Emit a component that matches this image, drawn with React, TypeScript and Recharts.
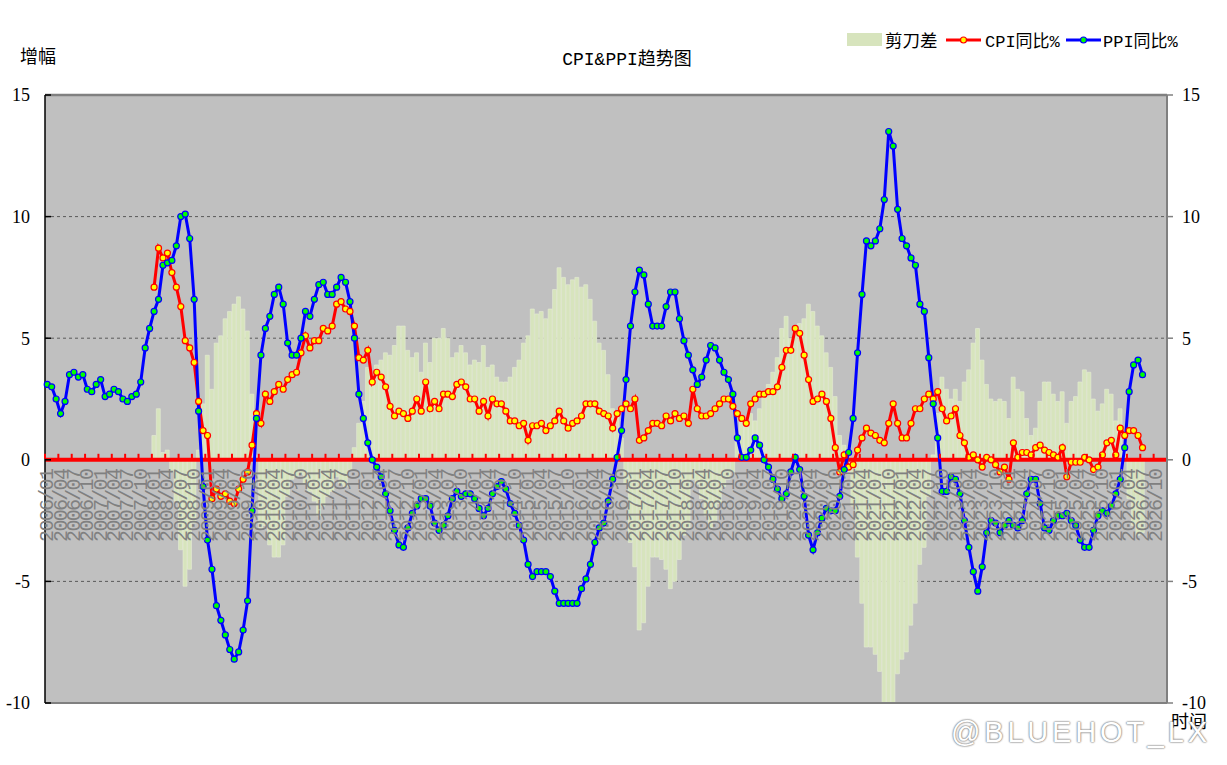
import React from 'react';
import {
  ComposedChart,
  Bar,
  Line,
  XAxis,
  YAxis,
  CartesianGrid,
  ReferenceLine,
  Legend,
} from 'recharts';

// ---------- categories ----------
const YEARS = [2006, 2007, 2008, 2009, 2010, 2011, 2012, 2013, 2014, 2015, 2016, 2017, 2018, 2019, 2020, 2021, 2022, 2023, 2024, 2025, 2026];
const MONTH_NUMS = ['01', '02', '03', '04', '05', '06', '07', '08', '09', '10', '11', '12'];
const MONTHS: string[] = YEARS.flatMap((y) => MONTH_NUMS.map((m) => `${y}/${m}`));

// ---------- series (from 2006/01) ----------
const PPI_START = '2006/01';
const PPI = [
  3.1, 3.0, 2.5, 1.9, 2.4, 3.5, 3.6, 3.4, 3.5, 2.9, 2.8, 3.1,
  3.3, 2.6, 2.7, 2.9, 2.8, 2.5, 2.4, 2.6, 2.7, 3.2, 4.6, 5.4,
  6.1, 6.6, 8.0, 8.1, 8.2, 8.8, 10.0, 10.1, 9.1, 6.6, 2.0, -1.1,
  -3.3, -4.5, -6.0, -6.6, -7.2, -7.8, -8.2, -7.9, -7.0, -5.8, -2.1, 1.7,
  4.3, 5.4, 5.9, 6.8, 7.1, 6.4, 4.8, 4.3, 4.3, 5.0, 6.1, 5.9,
  6.6, 7.2, 7.3, 6.8, 6.8, 7.1, 7.5, 7.3, 6.5, 5.0, 2.7, 1.7,
  0.7, 0.0, -0.3, -0.7, -1.4, -2.1, -2.9, -3.5, -3.6, -2.8, -2.2, -1.9,
  -1.6, -1.6, -1.9, -2.6, -2.9, -2.7, -2.3, -1.6, -1.3, -1.5, -1.4, -1.4,
  -1.6, -2.0, -2.3, -2.0, -1.4, -1.1, -0.9, -1.2, -1.8, -2.2, -2.7, -3.3,
  -4.3, -4.8, -4.6, -4.6, -4.6, -4.8, -5.4, -5.9, -5.9, -5.9, -5.9, -5.9,
  -5.3, -4.9, -4.3, -3.4, -2.8, -2.6, -1.7, -0.8, 0.1, 1.2, 3.3, 5.5,
  6.9, 7.8, 7.6, 6.4, 5.5, 5.5, 5.5, 6.3, 6.9, 6.9, 5.8, 4.9,
  4.3, 3.7, 3.1, 3.4, 4.1, 4.7, 4.6, 4.1, 3.6, 3.3, 2.7, 0.9,
  0.1, 0.1, 0.4, 0.9, 0.6, 0.0, -0.3, -0.8, -1.2, -1.6, -1.4, -0.5,
  0.1, -0.4, -1.5, -3.1, -3.7, -3.0, -2.4, -2.0, -2.1, -2.1, -1.5, -0.4,
  0.3, 1.7, 4.4, 6.8, 9.0, 8.8, 9.0, 9.5, 10.7, 13.5, 12.9, 10.3,
  9.1, 8.8, 8.3, 8.0, 6.4, 6.1, 4.2, 2.3, 0.9, -1.3, -1.3, -0.7,
  -0.8, -1.4, -2.5, -3.6, -4.6, -5.4, -4.4, -3.0, -2.5, -2.6, -3.0, -2.7,
  -2.5, -2.7, -2.8, -2.5, -1.4, -0.8, -0.8, -1.8, -2.8, -2.9, -2.5, -2.3,
  -2.3, -2.2, -2.5, -2.7, -3.3, -3.6, -3.6, -2.9, -2.3, -2.1, -2.2, -1.9,
  -1.4, -0.8, 0.5, 2.8, 3.9, 4.1, 3.5,
];

// ---------- series (from 2008/01) ----------
const CPI_START = '2008/01';
const CPI = [
  7.1, 8.7, 8.3, 8.5, 7.7, 7.1, 6.3, 4.9, 4.6, 4.0, 2.4, 1.2,
  1.0, -1.6, -1.2, -1.5, -1.4, -1.7, -1.8, -1.2, -0.8, -0.5, 0.6, 1.9,
  1.5, 2.7, 2.4, 2.8, 3.1, 2.9, 3.3, 3.5, 3.6, 4.4, 5.1, 4.6,
  4.9, 4.9, 5.4, 5.3, 5.5, 6.4, 6.5, 6.2, 6.1, 5.5, 4.2, 4.1,
  4.5, 3.2, 3.6, 3.4, 3.0, 2.2, 1.8, 2.0, 1.9, 1.7, 2.0, 2.5,
  2.0, 3.2, 2.1, 2.4, 2.1, 2.7, 2.7, 2.6, 3.1, 3.2, 3.0, 2.5,
  2.5, 2.0, 2.4, 1.8, 2.5, 2.3, 2.3, 2.0, 1.6, 1.6, 1.4, 1.5,
  0.8, 1.4, 1.4, 1.5, 1.2, 1.4, 1.6, 2.0, 1.6, 1.3, 1.5, 1.6,
  1.8, 2.3, 2.3, 2.3, 2.0, 1.9, 1.8, 1.3, 1.9, 2.1, 2.3, 2.1,
  2.5, 0.8, 0.9, 1.2, 1.5, 1.5, 1.4, 1.8, 1.6, 1.9, 1.7, 1.8,
  1.5, 2.9, 2.1, 1.8, 1.8, 1.9, 2.1, 2.3, 2.5, 2.5, 2.2, 1.9,
  1.7, 1.5, 2.3, 2.5, 2.7, 2.7, 2.8, 2.8, 3.0, 3.8, 4.5, 4.5,
  5.4, 5.2, 4.3, 3.3, 2.4, 2.5, 2.7, 2.4, 1.7, 0.5, -0.5, 0.2,
  -0.3, -0.2, 0.4, 0.9, 1.3, 1.1, 1.0, 0.8, 0.7, 1.5, 2.3, 1.5,
  0.9, 0.9, 1.5, 2.1, 2.1, 2.5, 2.7, 2.5, 2.8, 2.1, 1.6, 1.8,
  2.1, 1.0, 0.7, 0.1, 0.2, 0.0, -0.3, 0.1, 0.0, -0.2, -0.5, -0.3,
  -0.8, 0.7, 0.1, 0.3, 0.3, 0.2, 0.5, 0.6, 0.4, 0.3, 0.2, 0.1,
  0.5, -0.7, -0.1, -0.1, -0.1, 0.1, 0.0, -0.4, -0.3, 0.2, 0.7, 0.8,
  0.2, 1.3, 1.0, 1.2, 1.2, 1.0, 0.5,
];

// 剪刀差 (CPI - PPI), from 2008/01
const GAP = [
  1.0, 2.1, 0.3, 0.4, -0.5, -1.7, -3.7, -5.2, -4.5, -2.6, 0.4, 2.3,
  4.3, 2.9, 4.8, 5.1, 5.8, 6.1, 6.4, 6.7, 6.2, 5.3, 2.7, 0.2,
  -2.8, -2.7, -3.5, -4.0, -4.0, -3.5, -1.5, -0.8, -0.7, -0.6, -1.0, -1.3,
  -1.7, -2.3, -1.9, -1.5, -1.3, -0.7, -1.0, -1.1, -0.4, 0.5, 1.5, 2.4,
  3.8, 3.2, 3.9, 4.1, 4.4, 4.3, 4.7, 5.5, 5.5, 4.5, 4.2, 4.4,
  3.6, 4.8, 4.0, 5.0, 5.0, 5.4, 5.0, 4.2, 4.4, 4.7, 4.4, 3.9,
  4.1, 4.0, 4.7, 3.8, 3.9, 3.4, 3.2, 3.2, 3.4, 3.8, 4.1, 4.8,
  5.1, 6.2, 6.0, 6.1, 5.8, 6.2, 7.0, 7.9, 7.5, 7.2, 7.4, 7.5,
  7.1, 7.2, 6.6, 5.7, 4.8, 4.5, 3.5, 2.1, 1.8, 0.9, -1.0, -3.4,
  -4.4, -7.0, -6.7, -5.2, -4.0, -4.0, -4.1, -4.5, -5.3, -5.0, -4.1, -3.1,
  -2.8, -0.8, -1.0, -1.6, -2.3, -2.8, -2.5, -1.8, -1.1, -0.8, -0.5, 1.0,
  1.6, 1.4, 1.9, 1.6, 2.1, 2.7, 3.1, 3.6, 4.2, 5.4, 5.9, 5.0,
  5.3, 5.6, 5.8, 6.4, 6.1, 5.5, 5.1, 4.4, 3.8, 2.6, 1.0, 0.6,
  -0.6, -1.9, -4.0, -5.9, -7.7, -7.7, -8.0, -8.7, -10.0, -12.0, -10.6, -8.8,
  -8.2, -7.9, -6.8, -5.9, -4.3, -3.6, -1.5, 0.2, 1.9, 3.4, 2.9, 2.5,
  2.9, 2.4, 3.2, 3.7, 4.8, 5.4, 4.1, 3.1, 2.5, 2.4, 2.5, 2.4,
  1.7, 3.4, 2.9, 2.8, 1.7, 1.0, 1.3, 2.4, 3.2, 3.2, 2.7, 2.4,
  2.8, 1.5, 2.4, 2.6, 3.2, 3.7, 3.6, 2.5, 2.0, 2.3, 2.9, 2.7,
  1.6, 2.1, 0.5, -1.6, -2.7, -3.1, -3.0,
];

const Y_TICKS = [-10, -5, 0, 5, 10, 15];
const Y_MIN = -10;
const Y_MAX = 15;

// ---------- table built for the library ----------
const ppiStart = MONTHS.indexOf(PPI_START);
const cpiStart = MONTHS.indexOf(CPI_START);
const data = MONTHS.map((month, i) => {
  const pi = i - ppiStart;
  const ci = i - cpiStart;
  return {
    month,
    ppi: pi >= 0 && pi < PPI.length ? PPI[pi] : null,
    cpi: ci >= 0 && ci < CPI.length ? CPI[ci] : null,
    gap: ci >= 0 && ci < GAP.length ? GAP[ci] : null,
  };
});

// ---------- layout ----------
const W = 1227;
const H = 765;
const MARGIN = { top: 95, right: 20, bottom: 61, left: 5 };
const Y_AXIS_W = 40;
const X_AXIS_H = 1;
const PLOT_LEFT = MARGIN.left + Y_AXIS_W;
const PLOT_W = W - MARGIN.left - MARGIN.right - 2 * Y_AXIS_W;
const PLOT_H = H - MARGIN.top - MARGIN.bottom - X_AXIS_H;
const BAND = PLOT_W / MONTHS.length;
const Y_ZERO = MARGIN.top + (PLOT_H * (Y_MAX - 0)) / (Y_MAX - Y_MIN);

const BAR_COLOR = '#D7E4BD';
const MIXED = "'Liberation Mono', 'Noto Sans CJK SC', monospace";
const CJK = "'Noto Sans CJK SC', sans-serif";
const SERIF = "'Liberation Serif', serif";

function MonthTick(props: any) {
  const { x, payload } = props;
  const bx = x - BAND / 2;
  return (
    <g>
      <line x1={bx} x2={bx} y1={Y_ZERO - 1} y2={Y_ZERO - 6} stroke="#FF0000" strokeWidth={2} />
      <text
        x={0}
        y={0}
        transform={`translate(${x + 6},${Y_ZERO + 10}) rotate(-90)`}
        textAnchor="end"
        fontSize={20}
        letterSpacing={-1.7}
        fontFamily={MIXED}
        fill="#808080"
      >
        {payload.value}
      </text>
    </g>
  );
}

function LeftTick(props: any) {
  const { x, y, payload } = props;
  return (
    <g>
      <line x1={PLOT_LEFT} x2={PLOT_LEFT + 6} y1={y} y2={y} stroke="#000" strokeWidth={1.5} />
      <text x={x} y={y} dy="0.36em" textAnchor="end" fontSize={18} fontFamily={SERIF} fill="#000">
        {payload.value}
      </text>
    </g>
  );
}

function LegendContent() {
  return (
    <svg width={W} height={60} style={{ display: 'block' }}>
      <rect x={847} y={33} width={35} height={13} fill={BAR_COLOR} />
      <text x={885} y={46.5} fontSize={17.5} fontFamily={MIXED} fill="#000">剪刀差</text>
      <line x1={946} x2={981} y1={40} y2={40} stroke="#FF0000" strokeWidth={3} />
      <circle cx={963.5} cy={40} r={3} fill="#FFFF00" stroke="#FF0000" strokeWidth={1.2} />
      <text x={985} y={46.5} fontSize={17} fontFamily={MIXED} fill="#000">CPI同比%</text>
      <line x1={1066} x2={1101} y1={40} y2={40} stroke="#0000FF" strokeWidth={3} />
      <circle cx={1083.5} cy={40} r={3} fill="#00FF00" stroke="#0000FF" strokeWidth={1.2} />
      <text x={1103} y={46.5} fontSize={17} fontFamily={MIXED} fill="#000">PPI同比%</text>
    </svg>
  );
}

export default function App() {
  return (
    <div style={{ position: 'absolute', left: 0, top: 0, width: W, height: H, background: '#fff', overflow: 'hidden' }}>
      <ComposedChart width={W} height={H} data={data} margin={MARGIN} barCategoryGap={0}>
        <CartesianGrid
          yAxisId="l"
          vertical={false}
          fill="#C0C0C0"
          fillOpacity={1}
          stroke="#5a5a5a"
          strokeDasharray="3 3"
        />
        <YAxis
          yAxisId="l"
          orientation="left"
          width={Y_AXIS_W}
          domain={[Y_MIN, Y_MAX]}
          ticks={Y_TICKS}
          allowDataOverflow
          axisLine={{ stroke: '#000', strokeWidth: 1.5 }}
          tickLine={false}
          tickSize={6}
          tickMargin={9}
          tick={<LeftTick />}
        />
        <YAxis
          yAxisId="r"
          orientation="right"
          width={Y_AXIS_W}
          domain={[Y_MIN, Y_MAX]}
          ticks={Y_TICKS}
          allowDataOverflow
          axisLine={{ stroke: '#808080', strokeWidth: 2 }}
          tickLine={{ stroke: '#808080', strokeWidth: 1.5 }}
          tickSize={6}
          tickMargin={9}
          tick={{ fontSize: 18, fontFamily: SERIF, fill: '#000' }}
        />
        <Bar
          yAxisId="l"
          dataKey="gap"
          name="剪刀差"
          fill={BAR_COLOR}
          stroke="#E6EDD5"
          strokeWidth={0.6}
          isAnimationActive={false}
        />
        <XAxis
          dataKey="month"
          interval={2}
          height={X_AXIS_H}
          axisLine={false}
          tickLine={false}
          tick={<MonthTick />}
          zIndex={350}
        />
        <ReferenceLine yAxisId="l" y={Y_MAX} stroke="#808080" strokeWidth={2.5} zIndex={360} />
        <ReferenceLine yAxisId="l" y={Y_MIN} stroke="#808080" strokeWidth={2} zIndex={360} />
        <ReferenceLine yAxisId="l" y={0} stroke="#FF0000" strokeWidth={4} zIndex={360} />
        <Line
          yAxisId="l"
          type="linear"
          dataKey="cpi"
          name="CPI同比%"
          stroke="#FF0000"
          strokeWidth={3}
          dot={{ r: 3, fill: '#FFFF00', stroke: '#FF0000', strokeWidth: 1.2 }}
          activeDot={false}
          isAnimationActive={false}
        />
        <Line
          yAxisId="l"
          type="linear"
          dataKey="ppi"
          name="PPI同比%"
          stroke="#0000FF"
          strokeWidth={3}
          dot={{ r: 3, fill: '#00FF00', stroke: '#0000FF', strokeWidth: 1.2 }}
          activeDot={false}
          isAnimationActive={false}
        />
        <Legend
          layout="horizontal"
          verticalAlign="middle"
          align="center"
          content={<LegendContent />}
          wrapperStyle={{ left: 0, top: 0, width: W, height: 60 }}
        />
      </ComposedChart>
      <svg width={W} height={H} style={{ position: 'absolute', left: 0, top: 0, pointerEvents: 'none' }}>
        <text x={627} y={65} textAnchor="middle" fontSize={18} fontFamily={MIXED} fill="#000">
          CPI&amp;PPI趋势图
        </text>
        <text x={20} y={63} fontSize={18} fontFamily={CJK} fill="#000">增幅</text>
        <text x={1171} y={728} fontSize={18} fontFamily={CJK} fill="#000">时间</text>
      </svg>
      <div
        style={{
          position: 'absolute',
          left: 951,
          top: 714,
          fontFamily: "'Liberation Sans', Arial, sans-serif",
          fontSize: 29,
          letterSpacing: 3.8,
          color: '#fff',
          lineHeight: '36px',
          whiteSpace: 'nowrap',
          textShadow: '0 0 2px #8a8a8a, 0 0 2px #8a8a8a, 0 0 1px #8a8a8a',
          pointerEvents: 'none',
        }}
      >
        @BLUEHOT_LX
      </div>
    </div>
  );
}
